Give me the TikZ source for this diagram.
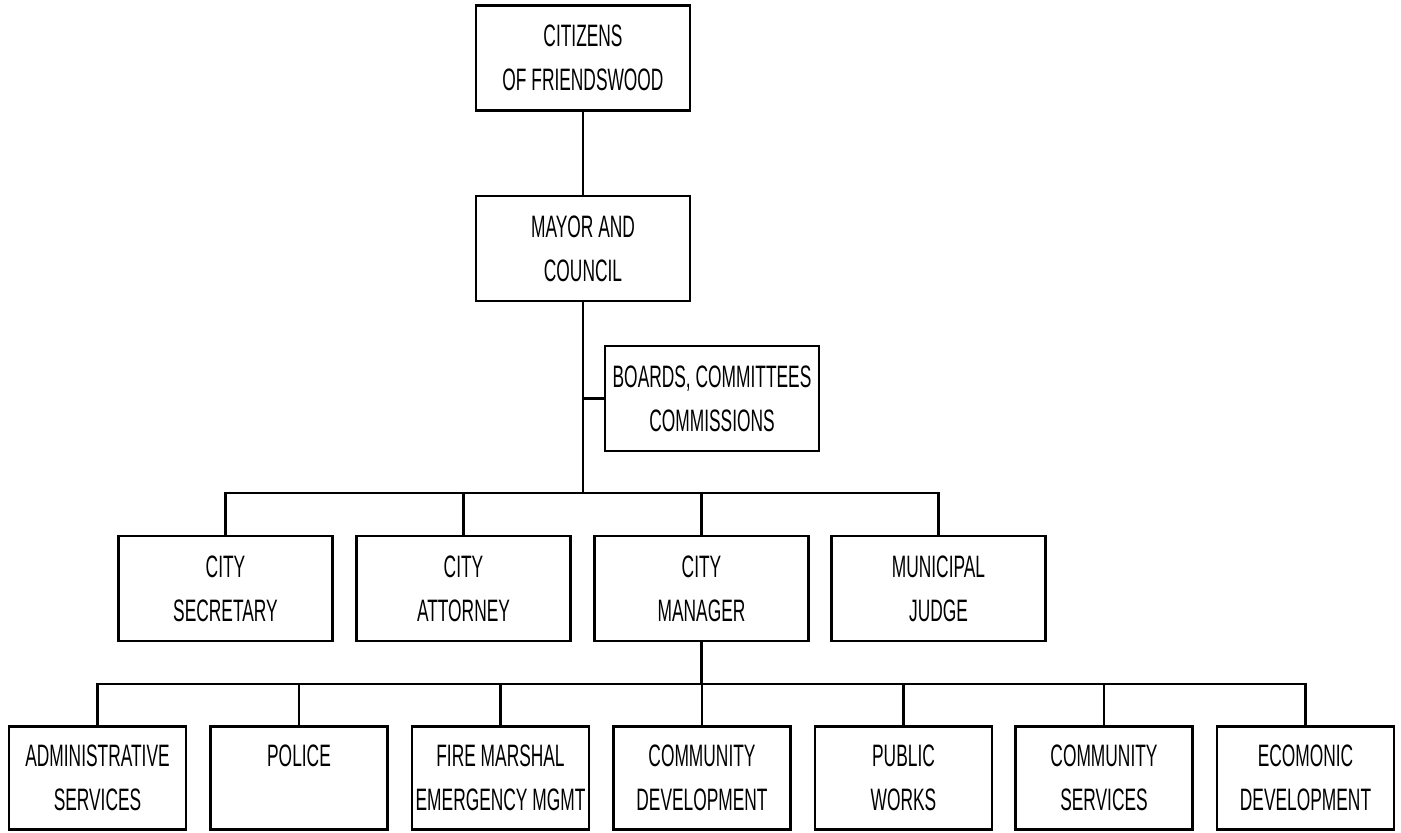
\documentclass[tikz,border=0pt]{standalone}
\usepackage{fontspec}
\setmainfont{Liberation Sans}[FakeStretch=0.56]
\usepackage{tikz}
\usetikzlibrary{positioning}

\tikzset{
    orgbox/.style={draw, line width=1.2pt, align=center, inner sep=0pt,
        minimum width=107pt, minimum height=52.5pt,
        font=\fontsize{15.5}{22}\selectfont},
    smallbox/.style={orgbox, minimum width=88.5pt, minimum height=51.5pt},
    link/.style={line width=1.1pt}
}

\begin{document}
\begin{tikzpicture}[x=0.5pt, y=-0.5pt]
    \useasboundingbox (0,0) rectangle (1401,832);

    % top of the chart
    \node [orgbox] (citizens) at (583,58) {CITIZENS\\OF FRIENDSWOOD};
    \node [orgbox] (mayor) at (583,248.5) {MAYOR AND\\COUNCIL};
    \node [orgbox] (boards) at (712,398.5) {BOARDS, COMMITTEES\\COMMISSIONS};

    % second row
    \node [orgbox] (secretary) at (225.5,588.5) {CITY\\SECRETARY};
    \node [orgbox] (attorney) at (463.5,588.5) {CITY\\ATTORNEY};
    \node [orgbox] (manager) at (701.5,588.5) {CITY\\MANAGER};
    \node [orgbox] (judge) at (938.5,588.5) {MUNICIPAL\\JUDGE};

    % departments
    \node [smallbox] (admin) at (97.5,778) {ADMINISTRATIVE\\SERVICES};
    \node [smallbox] (police) at (299,778) {POLICE\\\phantom{POLICE}};
    \node [smallbox] (fire) at (500.5,778) {FIRE MARSHAL\\EMERGENCY MGMT};
    \node [smallbox] (commdev) at (702,778) {COMMUNITY\\DEVELOPMENT};
    \node [smallbox] (works) at (903.5,778) {PUBLIC\\WORKS};
    \node [smallbox] (commserv) at (1104,778) {COMMUNITY\\SERVICES};
    \node [smallbox] (economic) at (1305.5,778) {ECOMONIC\\DEVELOPMENT};

    \coordinate (bar1) at (583,493);
    \coordinate (bar2) at (701.5,684);

    \draw [link] (citizens) -- (mayor);
    \draw [link] (mayor) -- (bar1);
    \draw [link] (boards.west) -- (boards.west -| bar1);
    \draw [link] (secretary.north) |- (bar1) -| (judge.north);
    \draw [link] (attorney.north) -- (attorney.north |- bar1);
    \draw [link] (manager.north) -- (manager.north |- bar1);

    \draw [link] (manager) -- (bar2);
    \draw [link] (admin.north) |- (bar2) -| (economic.north);
    \foreach \dept in {police, fire, commdev, works, commserv}
        \draw [link] (\dept.north) -- (\dept.north |- bar2);
\end{tikzpicture}
\end{document}
